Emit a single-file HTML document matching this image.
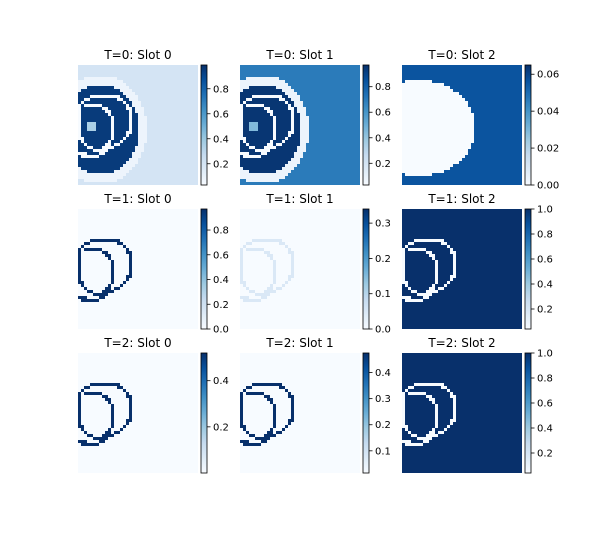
<!DOCTYPE html>
<html><head><meta charset="utf-8"><style>
html,body{margin:0;padding:0;background:#fff;}
svg{display:block;font-family:"DejaVu Sans","Liberation Sans",sans-serif;}
</style></head><body>
<svg id="fig" width="594" height="540" viewBox="0 0 594 540"></svg>
<script>
const titles=["T=0: Slot 0","T=0: Slot 1","T=0: Slot 2","T=1: Slot 0","T=1: Slot 1","T=1: Slot 2","T=2: Slot 0","T=2: Slot 1","T=2: Slot 2"];
const vmins=[0.03,0.03,0.0,0.0,0.0,0.04,0.0,0.015,0.04];
const vmaxs=[0.99,0.97,0.065,0.97,0.34,1.0,0.52,0.475,1.0];
const ticks=[[0.2,0.4,0.6,0.8],[0.2,0.4,0.6,0.8],[0.00,0.02,0.04,0.06],[0.0,0.2,0.4,0.6,0.8],[0.0,0.1,0.2,0.3],[0.2,0.4,0.6,0.8,1.0],[0.2,0.4],[0.1,0.2,0.3,0.4],[0.2,0.4,0.6,0.8,1.0]];
const tickDigits=[1,1,2,1,1,1,1,1,1];
const bgVals=[0.2,0.7,0.056,0.0,0.0,1.0,0.0,0.015,1.0];
const ringVals=[0.03,0.03,null,0.97,0.05,0.04,0.52,0.475,0.04];
const diskVals=[0.95,0.95,0.0,null,null,null,null,null,null];
const haloVals=[0.08,0.08,0.056,null,null,null,null,null,null];
const spotVals=[0.35,0.45,null,null,null,null,null,null,null];
const diskCx=[7,7,5,0,0,0,0,0,0];
const diskCy=[21,21,20.5,0,0,0,0,0,0];
const diskRx=[13,13,19,0,0,0,0,0,0];
const diskRy=[15,15,16,0,0,0,0,0,0];
const ringMask=[
"","","","","","","","","","",
"....##########......",
"..##.........##.....",
".#.............#....",
"#.######........#...",
"#.......##......##..",
"#........##......#..",
"#.........#......#..",
"#..........#.....#..",
"#..........#.....#..",
"#..........#.....#..",
"#..........#.....#..",
"#..........#.....#..",
"#..........#....##..",
"#..........#....#...",
"##.........#...#....",
".#........#...#.....",
"..#......##.##......",
"...##...####........",
".....#####..........",
"###....##...........",
".######.............",
"","","","","","","","",""];
const stops=["#f7fbff","#deebf7","#c6dbef","#9ecae1","#6baed6","#4292c6","#2171b5","#08519c","#08306b"];
function hex(h){return [1,3,5].map(i=>parseInt(h.substr(i,2),16));}
function blues(t){t=Math.max(0,Math.min(1,t));const p=t*8,i=Math.min(7,Math.floor(p)),f=p-i;const a=hex(stops[i]),b=hex(stops[i+1]);return "rgb("+a.map((v,k)=>Math.round(v+(b[k]-v)*f)).join(",")+")";}
const NS="http://www.w3.org/2000/svg";
const svg=document.getElementById("fig");
function mk(tag,attrs,parent){const e=document.createElementNS(NS,tag);for(const k in attrs)e.setAttribute(k,attrs[k]);(parent||svg).appendChild(e);return e;}
const px0=[78,240,402],py0=[65,209,353],W=120,H=120,N=40,C=3;
for(let p=0;p<9;p++){
  const x0=px0[p%3],y0=py0[Math.floor(p/3)];
  const lo=vmins[p],hi=vmaxs[p];
  const g=mk("g",{});
  
  
  for(let r=0;r<N;r++){for(let c=0;c<N;c++){
    let v=bgVals[p];
    if(diskVals[p]!==null){
      const d=Math.sqrt(Math.pow((c-diskCx[p])/diskRx[p],2)+Math.pow((r-diskCy[p])/diskRy[p],2));
      if(d<1)v=diskVals[p];else if(d<1.2)v=haloVals[p];
    }
    if(spotVals[p]!==null && Math.abs(c-4)<=1 && Math.abs(r-20)<=1)v=spotVals[p];
    const row=ringMask[r]||"";
    if(ringVals[p]!==null && row[c]==="#")v=ringVals[p];
    mk("rect",{x:x0+c*C,y:y0+r*C,width:C,height:C,fill:blues((v-lo)/(hi-lo)),"shape-rendering":"crispEdges"},g);
  }}
  const t=mk("text",{x:x0+W/2,y:y0-6,"text-anchor":"middle","font-size":"12",fill:"#000"});
  t.textContent=titles[p];
  
  
  const cx=x0+123;
  const cb=mk("g",{});
  
  
  for(let i=0;i<H;i++){mk("rect",{x:cx,y:y0+i,width:6,height:1,fill:blues(1-(i+0.5)/H),"shape-rendering":"crispEdges"},cb);}
  mk("rect",{x:cx,y:y0,width:6,height:H,fill:"none",stroke:"#000","stroke-width":"0.8"},cb);
  ticks[p].forEach(tv=>{
    const ty=y0+H-(tv-lo)/(hi-lo)*H;
    mk("line",{x1:cx+6,x2:cx+9.5,y1:ty,y2:ty,stroke:"#000","stroke-width":"0.8"},cb);
    const lt=mk("text",{x:cx+12,y:ty+3.5,"font-size":"10",fill:"#000"},cb);
    lt.textContent=tv.toFixed(tickDigits[p]);
    
    
  });
}
</script>
</body></html>
